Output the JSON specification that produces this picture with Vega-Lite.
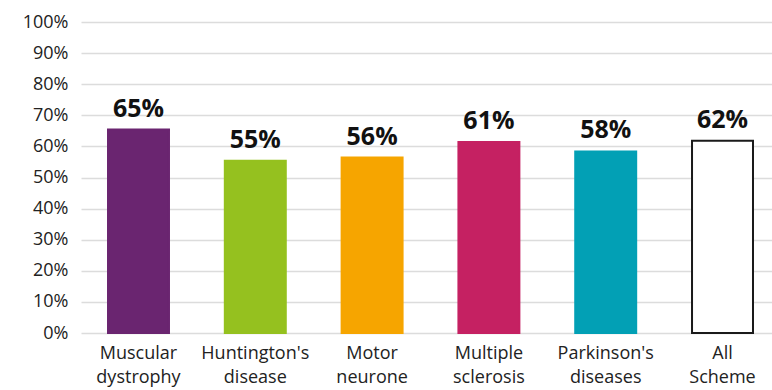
{
  "$schema": "https://vega.github.io/schema/vega-lite/v6.json",
  "width": 691,
  "height": 311,
  "autosize": {"type": "none"},
  "padding": {"left": 81, "top": 22, "right": 0, "bottom": 57},
  "background": "white",
  "config": {"view": {"stroke": null}, "font": "Open Sans"},
  "data": {
    "values": [
      {"category": "Muscular dystrophy", "value": 0.654, "color": "#6a2570", "stroke": "#6a2570"},
      {"category": "Huntington's disease", "value": 0.554, "color": "#95c11f", "stroke": "#95c11f"},
      {"category": "Motor neurone", "value": 0.564, "color": "#f6a500", "stroke": "#f6a500"},
      {"category": "Multiple sclerosis", "value": 0.614, "color": "#c52162", "stroke": "#c52162"},
      {"category": "Parkinson's diseases", "value": 0.584, "color": "#02a0b5", "stroke": "#02a0b5"},
      {"category": "All Scheme", "value": 0.618, "color": "#ffffff", "stroke": "#1a1a1a"}
    ]
  },
  "encoding": {
    "x": {
      "field": "category",
      "type": "nominal",
      "sort": null,
      "scale": {"paddingInner": 0.478, "paddingOuter": 0.197, "align": 0.587},
      "axis": {
        "title": null,
        "labelAngle": 0,
        "labelFontSize": 18,
        "labelColor": "#222222",
        "labelExpr": "split(datum.label, ' ')",
        "labelLineHeight": 24,
        "labelPadding": 11,
        "ticks": false,
        "domain": false,
        "grid": false
      }
    },
    "y": {
      "field": "value",
      "type": "quantitative",
      "scale": {"domain": [0, 1], "nice": false},
      "axis": {
        "title": null,
        "format": ".0%",
        "values": [0, 0.1, 0.2, 0.3, 0.4, 0.5, 0.6, 0.7, 0.8, 0.9, 1],
        "labelFontSize": 18,
        "labelColor": "#222222",
        "labelPadding": 13,
        "ticks": false,
        "domain": false,
        "grid": true,
        "gridColor": "#dcdcdc",
        "gridWidth": 1.5
      }
    }
  },
  "layer": [
    {
      "mark": {"type": "bar", "strokeWidth": 2},
      "encoding": {
        "fill": {"field": "color", "type": "nominal", "scale": null},
        "stroke": {"field": "stroke", "type": "nominal", "scale": null}
      }
    },
    {
      "mark": {"type": "text", "fontSize": 25, "fontWeight": "bold", "dy": -13, "baseline": "alphabetic", "color": "#111111"},
      "encoding": {
        "text": {"field": "value", "type": "quantitative", "format": ".0%"}
      }
    }
  ]
}
